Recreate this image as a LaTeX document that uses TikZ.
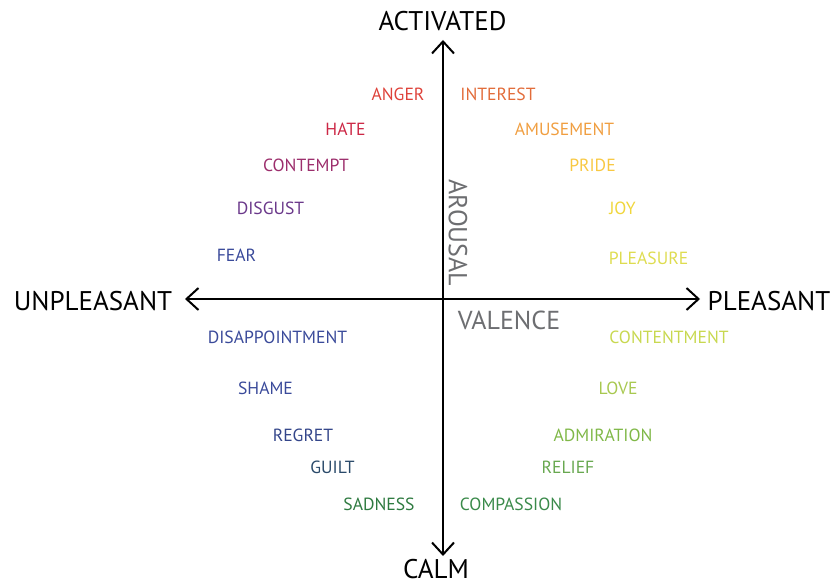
\documentclass[tikz,border=0pt]{standalone}
\usepackage{fontspec}
\setmainfont{PT Sans}
\usetikzlibrary{arrows.meta}
\definecolor{cAnger}{RGB}{222,66,58}
\definecolor{cInterest}{RGB}{226,108,58}
\definecolor{cHate}{RGB}{204,40,70}
\definecolor{cAmuse}{RGB}{240,158,64}
\definecolor{cContempt}{RGB}{156,46,108}
\definecolor{cPride}{RGB}{248,200,66}
\definecolor{cDisgust}{RGB}{106,56,138}
\definecolor{cJoy}{RGB}{240,214,60}
\definecolor{cFear}{RGB}{58,74,154}
\definecolor{cPleasure}{RGB}{222,220,80}
\definecolor{cDisapp}{RGB}{58,74,154}
\definecolor{cContent}{RGB}{200,216,80}
\definecolor{cShame}{RGB}{58,74,154}
\definecolor{cLove}{RGB}{168,200,80}
\definecolor{cRegret}{RGB}{52,70,138}
\definecolor{cAdmir}{RGB}{128,184,72}
\definecolor{cGuilt}{RGB}{42,74,106}
\definecolor{cRelief}{RGB}{104,168,80}
\definecolor{cSad}{RGB}{46,122,64}
\definecolor{cCompass}{RGB}{58,138,74}
\definecolor{cGrayLbl}{RGB}{109,110,113}
\tikzset{
  emo/.style={font=\fontsize{17.6}{17.6}\selectfont, inner sep=0pt, anchor=center},
  pole/.style={font=\fontsize{27}{27}\selectfont, inner sep=0pt, anchor=center, text=black},
  axname/.style={font=\fontsize{26}{26}\selectfont, inner sep=0pt, anchor=center, text=cGrayLbl},
  axis/.style={line width=2pt, black, -{Straight Barb[length=12pt,width=22pt,line width=2pt]}},
}
\begin{document}
\begin{tikzpicture}[x=1pt,y=-1pt]
\useasboundingbox (0,0) rectangle (831,585);
\coordinate (O) at (443,299);
\coordinate (T) at (443,40);
\coordinate (B) at (443,556);
\coordinate (L) at (185,299);
\coordinate (R) at (700,299);
\draw[axis] (O) -- (T);
\draw[axis] (O) -- (B);
\draw[axis] (O) -- (L);
\draw[axis] (O) -- (R);
\node[pole] (act) at (442.5,21) {ACTIVATED};
\node[pole] (calm) at (436,569) {CALM};
\node[pole] (unp) at (93,301) {UNPLEASANT};
\node[pole] (ple) at (769,301) {PLEASANT};
\node[axname] (val) at (509,320) {VALENCE};
\node[axname, rotate=-90] (aro) at (458,233) {AROUSAL};
\node[emo, text=cAnger] (anger) at (398,94) {ANGER};
\node[emo, text=cHate] (hate) at (345.5,129.5) {HATE};
\node[emo, text=cContempt] (contempt) at (306,165) {CONTEMPT};
\node[emo, text=cDisgust] (disgust) at (270.5,208) {DISGUST};
\node[emo, text=cFear] (fear) at (236.5,255) {FEAR};
\node[emo, text=cInterest] (interest) at (498,94) {INTEREST};
\node[emo, text=cAmuse] (amuse) at (564.5,129.5) {AMUSEMENT};
\node[emo, text=cPride] (pride) at (592.5,165) {PRIDE};
\node[emo, text=cJoy] (joy) at (622.5,208) {JOY};
\node[emo, text=cPleasure] (pleasure) at (648.5,258) {PLEASURE};
\node[emo, text=cDisapp] (disapp) at (277.5,337) {DISAPPOINTMENT};
\node[emo, text=cShame] (shame) at (265.5,388) {SHAME};
\node[emo, text=cRegret] (regret) at (303,435) {REGRET};
\node[emo, text=cGuilt] (guilt) at (332.5,467) {GUILT};
\node[emo, text=cSad] (sad) at (379,504) {SADNESS};
\node[emo, text=cContent] (content) at (669,337) {CONTENTMENT};
\node[emo, text=cLove] (love) at (618,388) {LOVE};
\node[emo, text=cAdmir] (admir) at (603,435) {ADMIRATION};
\node[emo, text=cRelief] (relief) at (568,467) {RELIEF};
\node[emo, text=cCompass] (compass) at (511,504) {COMPASSION};
\end{tikzpicture}
\end{document}
